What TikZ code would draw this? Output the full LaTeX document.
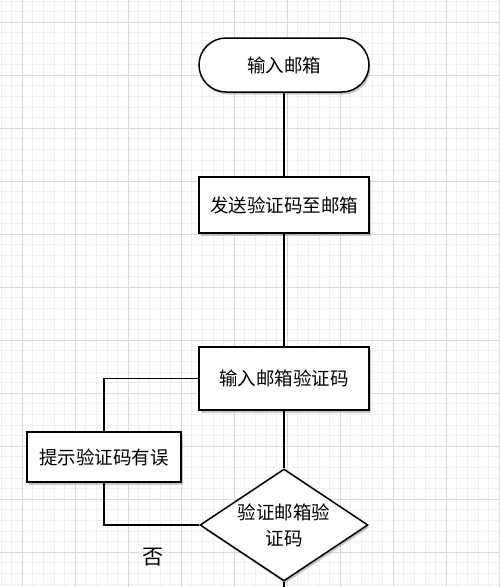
\documentclass[tikz,border=0pt]{standalone}
\usepackage{fontspec}
\setmainfont{Noto Sans CJK SC}
\usetikzlibrary{shapes.geometric,shadows}
\begin{document}
\begin{tikzpicture}[x=1pt,y=-1pt,
  base/.style={draw=black,line width=1.5pt,fill=white,font=\fontsize{18.5}{26}\selectfont,align=center,inner sep=0pt,
    drop shadow={shadow xshift=1.5pt,shadow yshift=-2.5pt,opacity=0.35,fill=black!60}},
  term/.style={base,rectangle,rounded corners=27pt,minimum width=170pt,minimum height=54pt},
  proc/.style={base,rectangle,minimum width=170pt,minimum height=56pt},
  dec/.style={base,diamond,aspect=1.5,minimum width=168pt,minimum height=112pt},
  conn/.style={draw=black,line width=1.4pt},
  minorgrid/.style={draw=black!6,line width=0.5pt},
  majorgrid/.style={draw=black!15,line width=0.6pt}]
\useasboundingbox (0,0) rectangle (500,587);
\fill[white] (0,0) rectangle (500,587);
\foreach \i in {0,...,48} {
  \draw[minorgrid] ({22+10.6*(\i-2)},0) -- ({22+10.6*(\i-2)},587);
}
\foreach \i in {0,...,58} {
  \draw[minorgrid] (0,{22+10.6*(\i-2)}) -- (500,{22+10.6*(\i-2)});
}
\foreach \i in {0,...,9} {
  \draw[majorgrid] ({22+53*\i},0) -- ({22+53*\i},587);
}
\foreach \i in {0,...,11} {
  \draw[majorgrid] (0,{22+53*\i}) -- (500,{22+53*\i});
}
\node[term] (t1) at (284,65) {输入邮箱};
\node[proc] (p1) at (284,205) {发送验证码至邮箱};
\node[proc,minimum height=63pt] (p2) at (284,378.5) {输入邮箱验证码};
\node[proc,minimum width=154pt,minimum height=50pt] (p3) at (104,457) {提示验证码有误};
\node[dec] (d1) at (284,525) {验证邮箱验\\证码};
\coordinate (end) at (284,590);
\node[font=\fontsize{21}{22}\selectfont,inner sep=0pt] (no) at (153,557) {否};
\draw[conn] (t1.south) -- (p1.north);
\draw[conn] (p1.south) -- (p2.north);
\draw[conn] (p2.south) -- (d1.north);
\draw[conn] (p2.west) -| (p3.north);
\draw[conn] (p3.south) |- (d1.west);
\draw[conn] (d1.south) -- (end);
\end{tikzpicture}
\end{document}
